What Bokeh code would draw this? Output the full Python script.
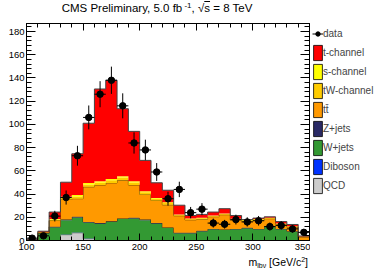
import numpy as np
from bokeh.plotting import figure
from bokeh.layouts import column, row
from bokeh.models import (Range1d, LinearAxis, Legend, LegendItem, Div,
                          ColumnDataSource, SingleIntervalTicker,
                          CustomJSTickFormatter)
from bokeh.embed import file_html
from bokeh.resources import INLINE

# ---------------- data ----------------
bin_low = [100, 110, 120, 130, 140, 150, 160, 170, 180, 190, 200, 210, 220,
           230, 240, 250, 260, 270, 280, 290, 300, 310, 320, 330, 340]
bin_width = 10
data_obs = [2, 4, 21, 37, 73, 106, 126, 138, 116, 84, 78, 59, 36, 44, 24, 27,
            15, 14, 18, 16, 17, 12, 13, 10, 7]
qcd     = [0, 0, 0, 5.0, 6.6, 1.5, 0, 0, 0, 0, 0, 0, 0, 0, 0, 0, 0, 0, 0, 0,
           0, 0, 0, 0, 0]
diboson = [0, 0, 0.1, 0.1, 0.2, 0.2, 0.2, 0.2, 0.2, 0.2, 0.2, 0.2, 0.1, 0.1,
           0.1, 0.1, 0.1, 0.1, 0.1, 0.1, 0.1, 0.1, 0.1, 0.1, 0]
wjets   = [0.5, 6.2, 11.3, 12.4, 13.1, 13.8, 14.3, 15.8, 18.3, 18.8, 17.3,
           14.4, 10.7, 6.2, 6.2, 7.9, 9.6, 9.1, 9.6, 10.5, 9.6, 11.9, 9.6, 7.7,
           0.5]
zjets   = [0, 0.2, 0.4, 0.5, 0.5, 0.5, 0.5, 0.5, 0.5, 0.5, 0.5, 0.4, 0.4, 0.3,
           0.3, 0.3, 0.3, 0.3, 0.3, 0.3, 0.3, 0.3, 0.3, 0.2, 0]
ttbar   = [0.1, 0.3, 5.4, 17.3, 15.6, 30.2, 32.8, 33.1, 32.8, 28.3, 21.7, 19.5,
           19.5, 14.7, 11.2, 10.0, 10.5, 12.7, 7.6, 5.9, 7.5, 6.5, 3.8, 3.6, 2.5]
tw_chan = [0, 0.2, 0.8, 1.6, 2.0, 2.0, 2.0, 2.2, 2.4, 2.2, 1.8, 1.4, 1.5, 0.8,
           0.8, 0.8, 0.8, 0.8, 0.8, 0.6, 0.8, 0.6, 0.6, 0.5, 0.3]
s_chan  = [0, 0.1, 0.5, 0.8, 1.2, 1.3, 1.2, 1.2, 1.2, 1.0, 1.0, 0.6, 0.8, 0.4,
           0.4, 0.4, 0.2, 0.3, 0.3, 0.2, 0.2, 0.2, 0.2, 0.2, 0.1]
t_chan  = [0.4, 1.0, 6.0, 12.5, 35.5, 51.5, 79.5, 85.0, 58.1, 43.0, 26.5, 13.2,
           10.3, 7.9, 2.5, 3.0, 3.0, 4.1, 2.8, 0.4, 0.8, 0.8, 1.7, 1.5, 0.5]

layers = [  # name, values, fill, edge
    ("QCD", qcd, "#cccccc", "#777777"),
    ("Diboson", diboson, "#0033ff", None),
    ("W+jets", wjets, "#339933", None),
    ("Z+jets", zjets, "#2a2a66", "#222222"),
    ("tt\u0304", ttbar, "#ff9900", "#7a4f00"),
    ("tW-channel", tw_chan, "#ffcc00", None),
    ("s-channel", s_chan, "#ffff00", None),
    ("t-channel", t_chan, "#ff0000", "#444444"),
]
legend_order = ["t-channel", "s-channel", "tW-channel", "tt\u0304", "Z+jets",
                "W+jets", "Diboson", "QCD"]

FONT = "Liberation Sans"
NAN = float("nan")

lo = np.array(bin_low, dtype=float)
edges = np.append(lo, lo[-1] + bin_width)
centers = lo + bin_width / 2.0
obs = np.array(data_obs, dtype=float)
err = np.sqrt(obs)

FIG_H = 240
p = figure(width=310, height=FIG_H, x_range=Range1d(100, 350),
           y_range=Range1d(0, 186.9), output_backend="svg",
           toolbar_location=None, min_border_left=26, min_border_right=1,
           min_border_top=9, min_border_bottom=14, margin=0)
p.xgrid.visible = False
p.ygrid.visible = False
p.outline_line_color = "black"
p.outline_line_width = 1
p.background_fill_color = "white"
p.border_fill_color = "white"

# ---------------- stacked histogram ----------------
bottom = np.zeros(len(lo))
for name, vals, fill, edge in layers:
    v = np.array(vals, dtype=float)
    top = bottom + v
    p.varea_step(x=edges, y1=np.append(bottom, bottom[-1]),
                 y2=np.append(top, top[-1]), step_mode="after",
                 fill_color=fill, fill_alpha=1.0)
    if edge is not None:
        p.step(x=edges, y=np.append(top, top[-1]), mode="after",
               line_color=edge, line_width=1)
    bottom = top

# ---------------- data points ----------------
p.segment(x0=centers - bin_width / 2, y0=obs, x1=centers + bin_width / 2,
          y1=obs, line_color="black", line_width=1)
p.segment(x0=centers, y0=obs - err, x1=centers, y1=obs + err,
          line_color="black", line_width=1)
p.scatter(centers, obs, size=6.5, marker="circle", fill_color="black",
          line_color="black")

# ---------------- axes ----------------
blank = CustomJSTickFormatter(code="return ''")

def style_axis(ax, major_in, minor_in, labels=True):
    ax.major_tick_in = major_in
    ax.major_tick_out = 0
    ax.minor_tick_in = minor_in
    ax.minor_tick_out = 0
    ax.axis_line_color = "black"
    ax.major_tick_line_color = "black"
    ax.minor_tick_line_color = "black"
    ax.major_label_text_font = FONT
    ax.major_label_text_color = "black"
    ax.major_label_text_font_size = "9.5px"
    if not labels:
        ax.formatter = blank
        ax.major_label_text_font_size = "1px"
        ax.major_label_standoff = 0

p.xaxis.ticker = SingleIntervalTicker(interval=50, num_minor_ticks=5)
p.yaxis.ticker = SingleIntervalTicker(interval=20, num_minor_ticks=5)
style_axis(p.xaxis[0], 7, 4)
style_axis(p.yaxis[0], 9, 5)
p.xaxis.major_label_standoff = 3
p.yaxis.major_label_standoff = 2

top_ax = LinearAxis(ticker=SingleIntervalTicker(interval=50, num_minor_ticks=5))
style_axis(top_ax, 7, 4, labels=False)
p.add_layout(top_ax, "above")
right_ax = LinearAxis(ticker=SingleIntervalTicker(interval=20, num_minor_ticks=5))
style_axis(right_ax, 9, 5, labels=False)
p.add_layout(right_ax, "right")

# ---------------- legend (separate panel to the right) ----------------
lf = figure(width=72, height=FIG_H, x_range=Range1d(0, 1), y_range=Range1d(0, 1),
            output_backend="svg", toolbar_location=None, x_axis_type=None,
            y_axis_type=None, min_border=0, margin=0)
lf.outline_line_color = None
lf.xgrid.visible = False
lf.ygrid.visible = False
lf.background_fill_color = "white"
lf.border_fill_color = "white"

nan_seg = ColumnDataSource(dict(x0=[NAN], y0=[NAN], x1=[NAN], y1=[NAN]))
nan_pt = ColumnDataSource(dict(x=[NAN], y=[NAN]))
leg_hbar = lf.segment(x0="x0", y0="y0", x1="x1", y1="y1", source=nan_seg,
                      line_color="black", line_width=1)
leg_pts = lf.scatter(x="x", y="y", source=nan_pt, size=6.5, marker="circle",
                     fill_color="black", line_color="black")
items = [LegendItem(label="data", renderers=[leg_hbar, leg_pts])]
fills = {name: fill for name, _, fill, _ in layers}
for name in legend_order:
    src = ColumnDataSource(dict(l=[NAN], r=[NAN], t=[NAN], b=[NAN]))
    r = lf.quad(left="l", right="r", top="t", bottom="b", source=src,
                fill_color=fills[name], line_color="black", line_width=0.8)
    items.append(LegendItem(label=name, renderers=[r]))
n_items = len(items)
legend = Legend(items=items, location=(2, FIG_H - 24 - 19 * n_items),
                margin=0, padding=0, spacing=0, glyph_width=11,
                glyph_height=19, label_standoff=0, label_text_font=FONT,
                label_text_font_size="10px", border_line_alpha=0,
                background_fill_alpha=0)
lf.add_layout(legend)

# ---------------- title and x label ----------------
title_html = (
    "<div style=\"font-family:'Liberation Sans';font-size:11.5px;"
    "line-height:14px;text-align:center;width:314px;white-space:nowrap;"
    "margin-top:-2px;color:black\">"
    "CMS Preliminary, 5.0 fb<span style=\"font-size:8px;position:relative;"
    "top:-4px\">&nbsp;-1</span>, &radic;<span style=\"text-decoration:overline\">s</span>"
    " = 8 TeV</div>")
title_div = Div(text=title_html, width=382, height=14, margin=0)

xlab_html = (
    "<div style=\"font-family:'Liberation Sans';font-size:10.5px;"
    "line-height:13px;text-align:right;width:308px;white-space:nowrap;"
    "margin-top:-4px;color:black\">m<span style=\"font-size:7px;position:relative;top:2px\">lb&nu;</span>"
    " [GeV/c<span style=\"font-size:7px;position:relative;top:-4px\">2</span>]</div>")
xlab_div = Div(text=xlab_html, width=382, height=13, margin=0)

layout = column(title_div, row(p, lf, spacing=0), xlab_div, spacing=0)

open("out.html", "w").write(file_html(layout, INLINE))
